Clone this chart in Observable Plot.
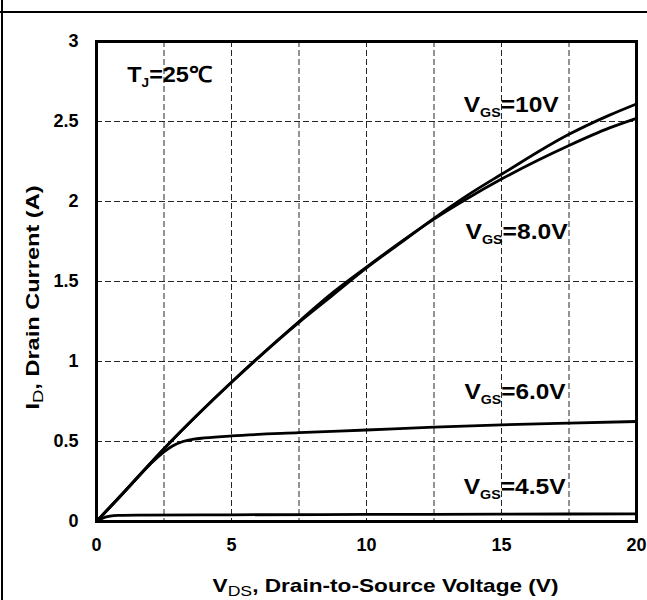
<!DOCTYPE html>
<html><head><meta charset="utf-8">
<script src="https://cdn.jsdelivr.net/npm/d3@7"></script>
<script src="https://cdn.jsdelivr.net/npm/@observablehq/plot@0.6"></script>
<style>
body{margin:0;background:#fff;}
#wrap{position:relative;width:647px;height:600px;overflow:hidden;background:#fff;}
#wrap svg{position:absolute;left:0;top:0;}
.vline{position:absolute;left:1px;top:0;width:2px;height:600px;background:#000;}
.hline{position:absolute;left:0;top:11px;width:647px;height:2px;background:#000;}
</style></head><body>
<div id="wrap"></div>
<script>
// ---- data ----
const vds10 = [0, 1, 2.5, 5, 7.5, 8.75, 10, 11.25, 12.5, 13.75, 15, 17.5, 19, 20];
const id10  = [0, 0.18, 0.455, 0.87, 1.245, 1.415, 1.585, 1.74, 1.895, 2.04, 2.17, 2.42, 2.54, 2.61];
const vds8  = [0, 1, 2.5, 5, 7.5, 8.75, 10, 11.25, 12.5, 13.75, 15, 17.5, 19, 20];
const id8   = [0, 0.18, 0.455, 0.87, 1.25, 1.43, 1.59, 1.745, 1.89, 2.02, 2.14, 2.35, 2.46, 2.52];
const vds6  = [0, 1, 2, 2.5, 2.8, 3.2, 3.6, 4, 5, 7.5, 10, 12.5, 15, 17.5, 20];
const id6   = [0, 0.18, 0.36, 0.435, 0.47, 0.5, 0.515, 0.522, 0.535, 0.555, 0.572, 0.59, 0.604, 0.615, 0.625];
const vds45 = [0, 0.25, 0.5, 0.8, 1.5, 5, 10, 15, 20];
const id45  = [0, 0.022, 0.033, 0.038, 0.04, 0.042, 0.044, 0.046, 0.048];

const xTicks = [0, 5, 10, 15, 20];
const yTicks = [0, 0.5, 1, 1.5, 2, 2.5, 3];
const xGrid = [2.5, 5, 7.5, 10, 12.5, 15, 17.5];
const yGrid = [0.5, 1, 1.5, 2, 2.5];

const seriesNames = ["10V", "8.0V", "6.0V", "4.5V"];
const annoText = ["V_{GS}=10V", "V_{GS}=8.0V", "V_{GS}=6.0V", "V_{GS}=4.5V"];
const annoX = [13.6, 13.67, 13.63, 13.6];
const annoY = [2.606, 1.81, 0.81, 0.214];
const annoLen = [95, 102, 101, 102];
const tjText = "T_{J}=25℃";
const tjX = 1.14, tjY = 2.79, tjLen = 85;
const xTitle = "V_{DS}, Drain-to-Source Voltage (V)";
const yTitle = "I_{D}, Drain Current (A)";
const xTitleLen = 346, yTitleLen = 224;

// ---- build table ----
const curves = [[vds10, id10], [vds8, id8], [vds6, id6], [vds45, id45]];
const rows = curves.flatMap(([xs, ys], k) => xs.map((v, i) => ({s: seriesNames[k], v, i: ys[i]})));
const annos = annoText.map((t, k) => ({t, x: annoX[k], y: annoY[k], len: annoLen[k]}));

const dash = {stroke: "#000", strokeOpacity: 0.85, strokeWidth: 1, strokeDasharray: "6,3"};

const svg = Plot.plot({
  width: 647, height: 600,
  marginLeft: 96, marginRight: 11, marginTop: 41, marginBottom: 79,
  style: {fontFamily: "'Liberation Sans', Arial, sans-serif", fontSize: "18px", fontWeight: "bold", color: "#000", background: "transparent"},
  x: {domain: [0, 20]},
  y: {domain: [0, 3]},
  marks: [
    Plot.gridX(xGrid, dash),
    Plot.gridY(yGrid, dash),
    Plot.line(rows, {x: "v", y: "i", z: "s", stroke: "#000", strokeWidth: 2.8, curve: "monotone-x"}),
    Plot.frame({stroke: "#000", strokeWidth: 3}),
    Plot.axisX(xTicks, {tickSize: 0, tickPadding: 17, label: null, fontSize: 18, tickFormat: d => String(d)}),
    Plot.axisY(yTicks, {tickSize: 0, tickPadding: 18, label: null, fontSize: 18, tickFormat: d => String(d)}),
    Plot.text(annos, {x: "x", y: "y", text: "t", textAnchor: "start", fontSize: 22, fill: "#000"}),
    Plot.text([tjText], {x: () => tjX, y: () => tjY, text: d => d, textAnchor: "start", fontSize: 22, fill: "#000"}),
    Plot.text([xTitle], {frameAnchor: "bottom", text: d => d, textAnchor: "middle", lineAnchor: "middle", dx: 19, dy: 64, fontSize: 19, fill: "#000"}),
    Plot.text([yTitle], {frameAnchor: "left", text: d => d, textAnchor: "middle", lineAnchor: "middle", rotate: -90, dx: -64, dy: 16, fontSize: 19, fill: "#000"})
  ]
});

const wrap = document.getElementById("wrap");
wrap.appendChild(svg);
const vl = document.createElement("div"); vl.className = "vline"; wrap.appendChild(vl);
const hl = document.createElement("div"); hl.className = "hline"; wrap.appendChild(hl);

// subscripts as real tspans, and text length to match the reference lettering
const NS = "http://www.w3.org/2000/svg";
const lengths = new Map([[xTitle, xTitleLen], [yTitle, yTitleLen], [tjText, tjLen], ...annos.map(a => [a.t, a.len])]);
svg.querySelectorAll("text").forEach(t => {
  const s = t.textContent;
  if (!s.includes("_{")) return;
  const fs = parseFloat(getComputedStyle(t).fontSize) || 18;
  const big = fs >= 20;
  const ratio = big ? 0.58 : 0.78;
  const shift = big ? 5 : 4;
  const parts = s.split(/(_\{[^}]*\})/).filter(p => p.length);
  t.textContent = "";
  let down = false;
  parts.forEach(p => {
    const ts = document.createElementNS(NS, "tspan");
    if (p.startsWith("_{")) {
      ts.textContent = p.slice(2, -1);
      ts.setAttribute("font-size", (fs * ratio) + "px");
      if (!big) ts.setAttribute("font-weight", "normal");
      ts.setAttribute("dy", shift);
      down = true;
    } else {
      ts.textContent = p;
      if (down) { ts.setAttribute("dy", -shift); down = false; }
    }
    t.appendChild(ts);
  });
  if (lengths.has(s)) {
    t.setAttribute("textLength", lengths.get(s));
    t.setAttribute("lengthAdjust", "spacingAndGlyphs");
  }
});
</script>
</body></html>
